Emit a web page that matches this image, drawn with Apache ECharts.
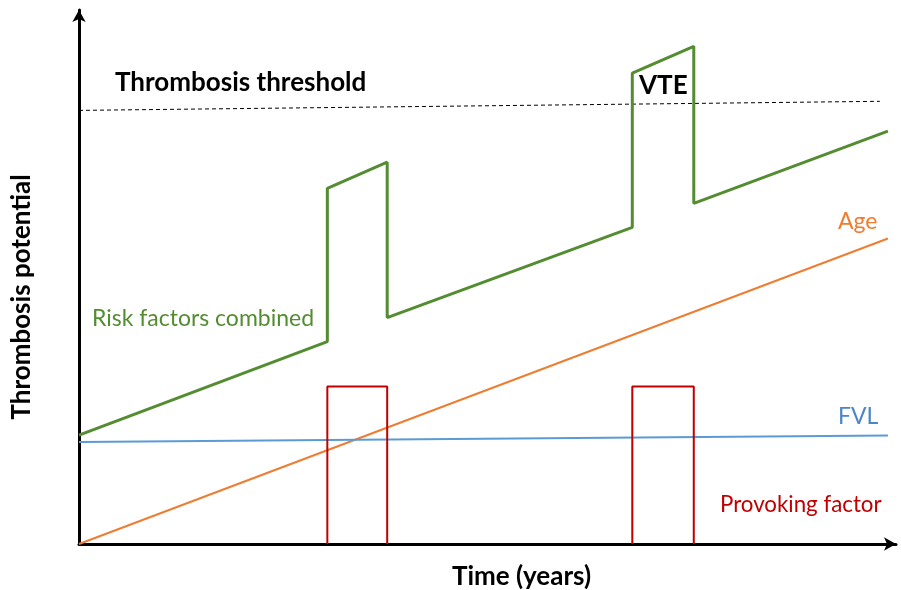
<!DOCTYPE html>
<html>
<head>
<meta charset="utf-8">
<script src="https://cdn.jsdelivr.net/npm/echarts@6/dist/echarts.min.js"></script>
<style>
  html, body { margin: 0; padding: 0; background: #fff; }
  #chart { width: 901px; height: 590px; }
</style>
</head>
<body>
<div id="chart"></div>
<script>
// time (arbitrary years) and thrombosis potential (arbitrary units)
const riskTime = [0, 3.07, 3.07, 3.81, 3.81, 6.84, 6.84, 7.6, 7.6, 10];
const riskValue = [20.4, 37.9, 66.6, 71.5, 42.4, 59.3, 88.2, 93.2, 63.8, 77.3];
const ageTime = [0, 10];
const ageValue = [0, 57.2];
const fvlTime = [0, 10];
const fvlValue = [19.1, 20.3];
const provoke1Time = [3.07, 3.07, 3.81, 3.81];
const provoke2Time = [6.84, 6.84, 7.6, 7.6];
const provokeValue = [0, 29.5, 29.5, 0];
const thresholdTime = [0, 9.9];
const thresholdValue = [81.2, 82.9];

const pairs = (xs, ys) => xs.map((x, i) => [x, ys[i]]);

const font = "Lato, 'Open Sans', sans-serif";
const chart = echarts.init(document.getElementById("chart"));

const line = (name, data, color, width, type) => ({
  name,
  type: "line",
  data,
  symbol: "none",
  silent: true,
  lineStyle: { color, width, type: type || "solid" },
});

const label = (text, x, y, size, color, weight) => ({
  type: "text",
  x,
  y,
  style: {
    text,
    font: (weight || "normal") + " " + size + "px " + font,
    fill: color,
    align: "left",
    verticalAlign: "middle",
  },
});

const option = {
  animation: false,
  grid: { left: 79, right: 5, top: 10, bottom: 46, containLabel: false, outerBoundsMode: "none" },
  xAxis: {
    type: "value",
    min: 0,
    max: 10.1,
    splitLine: { show: false },
    axisTick: { show: false },
    axisLabel: { show: false },
    axisLine: {
      lineStyle: { color: "#000", width: 3 },
      symbol: ["none", "arrow"],
      symbolSize: [10, 12],
    },
    name: "Time (years)",
    nameLocation: "middle",
    nameGap: 20,
    nameTextStyle: { fontFamily: font, fontWeight: "bold", fontSize: 26, color: "#000", padding: [0, 0, 0, 68] },
  },
  yAxis: {
    type: "value",
    min: 0,
    max: 100,
    splitLine: { show: false },
    axisTick: { show: false },
    axisLabel: { show: false },
    axisLine: {
      lineStyle: { color: "#000", width: 3 },
      symbol: ["none", "arrow"],
      symbolSize: [10, 12],
    },
    name: "Thrombosis potential",
    nameLocation: "middle",
    nameRotate: 90,
    nameGap: 44,
    nameTextStyle: { fontFamily: font, fontWeight: "bold", fontSize: 26, color: "#000", padding: [0, 40, 0, 0] },
  },
  series: [
    line("threshold", pairs(thresholdTime, thresholdValue), "#000", 1, [4, 3]),
    line("Age", pairs(ageTime, ageValue), "#ED7D31", 2),
    line("FVL", pairs(fvlTime, fvlValue), "#5B9BD5", 2),
    line("Provoking factor", pairs(provoke1Time, provokeValue), "#C00000", 2),
    line("Provoking factor 2", pairs(provoke2Time, provokeValue), "#C00000", 2),
    line("Risk factors combined", pairs(riskTime, riskValue), "#548C32", 3),
  ],
  graphic: [
    label("Thrombosis threshold", 115, 83, 26, "#000", "bold"),
    label("VTE", 639, 86, 26, "#000", "bold"),
    label("Risk factors combined", 92, 319, 23, "#548C32"),
    label("Age", 838, 222, 23, "#ED7D31"),
    label("FVL", 838, 417, 23, "#4A86C8"),
    label("Provoking factor", 720, 505, 22.3, "#C00000"),
  ],
};

chart.setOption(option);
</script>
</body>
</html>
